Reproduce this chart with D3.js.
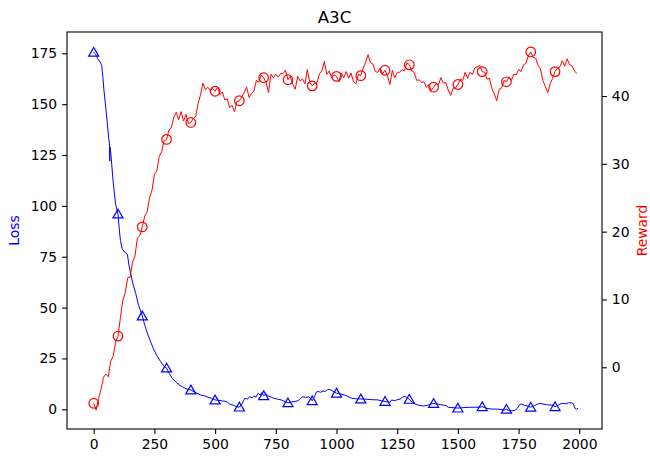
<!DOCTYPE html>
<html>
<head>
<meta charset="utf-8">
<script src="https://cdn.jsdelivr.net/npm/d3@7/dist/d3.min.js"></script>
<style>
  html, body { margin: 0; padding: 0; background: #fff; }
  svg { display: block; font-family: "DejaVu Sans", sans-serif; }
</style>
</head>
<body>
<svg id="chart" width="650" height="457"></svg>
<script>
// Training curves for A3C: loss (left axis) and reward (right axis) over 2000 steps.
const chartTitle = "A3C";
const lossLabel = "Loss";
const rewardLabel = "Reward";

// Loss samples as [step, value]
const lossPoints = [
  [0,175.5],[8,174.5],[15,172.6],[25,171],[33,169],[38,163],[42,157],[50,148],[56,140.6],[62,133],
  [65,130.5],[66,122],[67,129],[70,126.5],[80,112],[90,101],[100,96],[105,89],[110,83],[117,79],
  [125,77.5],[132,77],[139,75.9],[145,71],[152,66.9],[162,61.5],[173,57],[185,51],[200,45.9],[210,41.5],
  [221,37.4],[235,33],[248,29.2],[262,26],[276,23.4],[290,21],[300,20.3],[312,17.5],[324,15.2],[340,13.2],
  [355,11.8],[365,11.1],[380,10.1],[400,9.5],[420,8.2],[441,7],[457,6.6],[470,6.0],[485,5.4],[500,4.6],
  [515,4.4],[530,4.1],[546,3.9],[560,2.6],[575,2.0],[590,1.2],[600,1.1],[610,2.5],[622,5.4],[632,5.0],
  [643,6.2],[652,5.6],[660,6.6],[668,6.0],[677,7.9],[685,7.0],[692,8.2],[700,6.7],[710,7.5],[720,6.5],
  [732,5.9],[745,5.3],[760,4.9],[773,4.6],[788,3.8],[800,3.2],[815,3.6],[830,3.9],[842,4.2],[852,5.4],
  [862,6.2],[872,5.8],[883,6.2],[892,5.6],[900,4.2],[910,6.5],[918,8.6],[924,8.7],[935,8.4],[945,9.0],
  [952,8.7],[962,9.6],[972,9.8],[985,8.9],[1000,7.9],[1015,7.6],[1034,7.0],[1048,6.2],[1062,5.4],[1078,5.2],
  [1093,5.1],[1100,5.1],[1115,5.0],[1130,4.9],[1150,4.7],[1171,4.6],[1185,4.2],[1200,3.9],[1210,3.6],[1220,3.4],
  [1227,4.6],[1240,4.2],[1247,4.6],[1262,5.0],[1272,6.0],[1281,6.4],[1290,5.8],[1300,4.9],[1312,3.4],[1323,2.6],
  [1340,2.0],[1357,1.6],[1375,2.0],[1390,2.6],[1400,2.9],[1420,2.5],[1439,2.1],[1452,1.8],[1460,1.0],[1480,0.8],
  [1500,0.6],[1520,0.8],[1549,1.0],[1570,1.0],[1590,1.0],[1600,1.3],[1615,0.6],[1632,0.2],[1650,0.1],[1673,0],
  [1690,-0.4],[1700,0.0],[1710,-0.6],[1720,-0.7],[1734,-0.6],[1745,0.5],[1755,2.4],[1762,2.6],[1775,2.0],[1790,1.5],
  [1800,1.0],[1815,1.8],[1825,2.4],[1838,2.9],[1850,2.6],[1865,2.3],[1879,2.1],[1890,2.1],[1900,1.3],[1915,2.2],
  [1925,2.8],[1934,2.9],[1945,2.7],[1955,3.2],[1968,3.2],[1975,2.8],[1982,0.5],[1989,0.0],[1995,0.6]
];

// Reward, one value every 10 steps starting at step 0
const rewardStep = 10;
const rewardValues = [
  -5.3,-6.3,-4.6,-3.3,-1.5,-1.0,-1.4,0.9,1.6,3.7,
  4.6,7.3,9.9,11.0,13.2,13.3,15.5,16.4,19.1,19.4,
  20.7,22.3,22.9,25.0,26.1,28.4,29.0,31.1,31.8,33.4,
  33.6,35.0,35.3,36.9,37.6,36.5,37.7,36.3,37.3,35.9,
  36.1,36.7,37.0,38.9,40.2,41.9,40.9,41.3,40.8,41.1,
  40.7,41.3,40.2,40.6,39.4,39.6,38.3,38.6,37.7,39.2,
  39.3,39.9,40.5,41.3,39.8,40.4,40.7,42.3,42.0,43.1,
  42.7,42.0,40.5,43.2,42.7,43.2,42.8,43.3,43.3,43.8,
  42.4,42.9,41.7,41.0,42.9,42.2,42.5,41.8,43.9,42.0,
  41.5,41.9,42.0,43.3,43.7,45.1,43.2,43.7,42.7,43.1,
  42.9,42.1,43.4,42.7,43.6,42.6,43.4,42.1,41.8,43.2,
  43.0,44.1,45.0,46.1,44.9,44.7,43.6,43.5,44.1,43.3,
  43.8,43.0,41.7,43.8,42.7,43.5,43.5,43.9,43.7,44.9,
  44.6,43.7,43.5,42.3,42.4,42.0,42.1,41.3,41.7,40.8,
  41.3,41.8,41.7,42.7,41.9,42.0,40.9,40.1,41.1,41.2,
  41.7,42.5,42.3,43.5,42.6,43.5,43.2,44.2,44.3,44.5,
  43.6,43.5,42.5,42.6,41.1,40.3,39.3,41.0,41.2,42.3,
  42.1,42.7,42.3,43.2,43.1,43.9,43.6,44.6,44.8,45.9,
  46.5,45.7,45.6,44.5,44.0,42.3,41.4,40.5,41.8,42.6,
  43.6,44.1,44.3,45.2,44.4,45.5,44.6,44.5,43.7,43.3
];

// Marker every 100 steps on both curves
const markerEvery = 100;

const xTicks = [0, 250, 500, 750, 1000, 1250, 1500, 1750, 2000];
const lossTicks = [0, 25, 50, 75, 100, 125, 150, 175];
const rewardTicks = [0, 10, 20, 30, 40];

const lossColor = "#0000ff";
const rewardColor = "#ff0000";

const W = 650, H = 457;
const plot = { left: 67, right: 602, top: 32, bottom: 429 };

const svg = d3.select("#chart");

const x = d3.scaleLinear().domain([-110, 2093.5]).range([plot.left, plot.right]);
const yLoss = d3.scaleLinear().domain([-9.68, 185.47]).range([plot.bottom, plot.top]);
const yReward = d3.scaleLinear().domain([-9.10, 49.44]).range([plot.bottom, plot.top]);

const rewardPoints = rewardValues.map((v, i) => [i * rewardStep, v]);

svg.append("defs").append("clipPath").attr("id", "plot-clip")
  .append("rect")
  .attr("x", plot.left).attr("y", plot.top)
  .attr("width", plot.right - plot.left).attr("height", plot.bottom - plot.top);

const g = svg.append("g").attr("clip-path", "url(#plot-clip)");

// Loss curve with triangle markers
const lossLine = d3.line().x(d => x(d[0])).y(d => yLoss(d[1]));
g.append("path")
  .datum(lossPoints)
  .attr("d", lossLine)
  .attr("fill", "none")
  .attr("stroke", lossColor)
  .attr("stroke-width", 1)
  .attr("stroke-linejoin", "round");

const tri = d3.symbol().type(d3.symbolTriangle).size(44);
g.selectAll(".loss-marker")
  .data(lossPoints.filter(d => d[0] % markerEvery === 0))
  .join("path")
  .attr("class", "loss-marker")
  .attr("d", tri)
  .attr("transform", d => `translate(${x(d[0])},${yLoss(d[1]) + 1})`)
  .attr("fill", "none")
  .attr("stroke", lossColor)
  .attr("stroke-width", 1.2);

// Reward curve with circle markers
const rewardLine = d3.line().x(d => x(d[0])).y(d => yReward(d[1]));
g.append("path")
  .datum(rewardPoints)
  .attr("d", rewardLine)
  .attr("fill", "none")
  .attr("stroke", rewardColor)
  .attr("stroke-width", 1)
  .attr("stroke-linejoin", "round");

g.selectAll(".reward-marker")
  .data(rewardPoints.filter(d => d[0] % markerEvery === 0))
  .join("circle")
  .attr("class", "reward-marker")
  .attr("cx", d => x(d[0]))
  .attr("cy", d => yReward(d[1]))
  .attr("r", 4.8)
  .attr("fill", "none")
  .attr("stroke", rewardColor)
  .attr("stroke-width", 1.2);

// Frame
svg.append("rect")
  .attr("x", plot.left).attr("y", plot.top)
  .attr("width", plot.right - plot.left).attr("height", plot.bottom - plot.top)
  .attr("fill", "none").attr("stroke", "#000").attr("stroke-width", 1.1);

// Axes
const tickFont = "13.9px";
function styleAxis(sel) {
  sel.select(".domain").remove();
  sel.selectAll(".tick line").attr("stroke", "#000").attr("stroke-width", 1.1);
  sel.selectAll(".tick text").attr("fill", "#000").style("font-size", tickFont)
    .style("font-family", "'DejaVu Sans', sans-serif");
}

svg.append("g")
  .attr("transform", `translate(0,${plot.bottom})`)
  .call(d3.axisBottom(x).tickValues(xTicks).tickSize(4.9).tickPadding(4.9).tickFormat(d3.format("d")))
  .call(styleAxis);

svg.append("g")
  .attr("transform", `translate(${plot.left},0)`)
  .call(d3.axisLeft(yLoss).tickValues(lossTicks).tickSize(4.9).tickPadding(4.9).tickFormat(d3.format("d")))
  .call(styleAxis);

svg.append("g")
  .attr("transform", `translate(${plot.right},0)`)
  .call(d3.axisRight(yReward).tickValues(rewardTicks).tickSize(4.9).tickPadding(4.9).tickFormat(d3.format("d")))
  .call(styleAxis);

// Title and axis labels
svg.append("text")
  .attr("x", (plot.left + plot.right) / 2)
  .attr("y", 23)
  .attr("text-anchor", "middle")
  .style("font-size", "16.7px")
  .attr("fill", "#000")
  .text(chartTitle);

const midY = (plot.top + plot.bottom) / 2;
svg.append("text")
  .attr("transform", `translate(19,${midY}) rotate(-90)`)
  .attr("text-anchor", "middle")
  .style("font-size", "13.9px")
  .attr("fill", lossColor)
  .text(lossLabel);

svg.append("text")
  .attr("transform", `translate(647,${midY}) rotate(-90)`)
  .attr("text-anchor", "middle")
  .style("font-size", "13.9px")
  .attr("fill", rewardColor)
  .text(rewardLabel);
</script>
</body>
</html>
